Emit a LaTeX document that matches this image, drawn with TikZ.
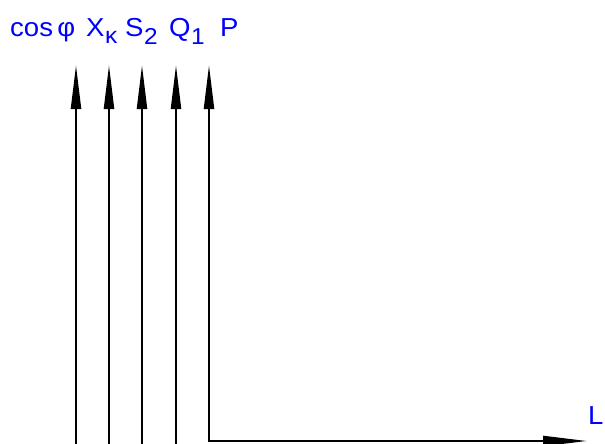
\documentclass[tikz,border=0pt]{standalone}
\usepackage{fontspec}
\setmainfont{Liberation Sans}
\newfontfamily\widefont[FakeStretch=1.06]{Liberation Sans}
\usetikzlibrary{arrows.meta}
\begin{document}
\begin{tikzpicture}[x=1pt,y=-1pt,
  axis/.style={line width=2.2pt,-{Triangle[length=44pt,width=10pt]}},
  lbl/.style={text=blue,font=\widefont\fontsize{26}{28}\selectfont,inner sep=0pt,anchor=base west},
  sub/.style={lbl,font=\widefont\fontsize{23}{25}\selectfont}]
\useasboundingbox (0,0) rectangle (605,444);
% vertical axes
\coordinate (b1) at (76,446); \coordinate (t1) at (76,65);
\coordinate (b2) at (109,446); \coordinate (t2) at (109,65);
\coordinate (b3) at (142,446); \coordinate (t3) at (142,65);
\coordinate (b4) at (176,446); \coordinate (t4) at (176,65);
\coordinate (o) at (209,441); \coordinate (t5) at (209,65);
\coordinate (xe) at (587,441);
\draw[axis] (b1) -- (t1);
\draw[axis] (b2) -- (t2);
\draw[axis] (b3) -- (t3);
\draw[axis] (b4) -- (t4);
\draw[axis] ([yshift=-1.1pt]o) -- (t5);
\draw[axis] ([xshift=-1.1pt]o) -- (xe);
% labels
\node[lbl] (lc) at (10,37) {cos\,φ};
\node[lbl] (lx) at (86,37) {X};
\node[sub] (lxs) at (105,44) {κ};
\node[lbl] (ls) at (125,37) {S};
\node[sub] (lss) at (144,45) {2};
\node[lbl] (lq) at (169,37) {Q};
\node[sub] (lqs) at (191,45) {1};
\node[lbl] (lp) at (220,37) {P};
\node[lbl] (ll) at (588,424) {L};
\end{tikzpicture}
\end{document}
